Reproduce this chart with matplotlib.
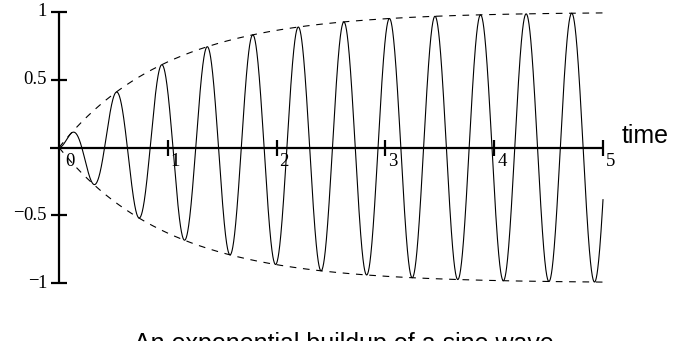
import numpy as np
import matplotlib.pyplot as plt

# values
tau = 1.0        # time constant of the envelope 1 - exp(-t/tau)
omega = 15.0     # angular frequency of the sine
t_start, t_end = 0.0, 5.0

x_ticks = [0, 1, 2, 3, 4, 5]
x_labels = ["0", "1", "2", "3", "4", "5"]
y_ticks = [1, 0.5, -0.5, -1]
y_labels = ["1", "0.5", "\u22120.5", "\u22121"]

t = np.linspace(t_start, t_end, 3000)
envelope = 1 - np.exp(-t / tau)
signal = envelope * np.sin(omega * t)

W, H = 682, 341
fig = plt.figure(figsize=(W / 100, H / 100), dpi=100)
# axes box = data range t 0..5, y -1..1 (pixel positions from the picture)
ax = fig.add_axes([59 / W, 1 - 283 / H, (603 - 59) / W, (283 - 12) / H])
ax.set_xlim(0, 5)
ax.set_ylim(-1, 1)
ax.axis("off")

# curve and envelope
ax.plot(t, signal, color="black", lw=0.8, clip_on=False)
ax.plot(t, envelope, color="black", lw=0.8, dashes=(6, 6), clip_on=False)
ax.plot(t, -envelope, color="black", lw=0.8, dashes=(6, 6), clip_on=False)

# hand drawn axes crossing at the origin
px_x = 5 / (603 - 59)   # data units per pixel
px_y = 2 / (283 - 12)
axis_kw = dict(color="black", lw=1.6, clip_on=False, solid_capstyle="butt")
ax.plot([-9 * px_x, 5], [0, 0], **axis_kw)
ax.plot([0, 0], [-1, 1], **axis_kw)
for xt in x_ticks[1:]:
    ax.plot([xt, xt], [-8 * px_y, 8 * px_y], **axis_kw)
for yt in y_ticks:
    ax.plot([-8 * px_x, 8 * px_x], [yt, yt], **axis_kw)

serif = "Liberation Serif"
fs = 13.5
for xt, lab in zip(x_ticks, x_labels):
    dx = 6 if xt == 0 else 3
    ax.text(xt + dx * px_x, -6 * px_y, lab, ha="left", va="top",
            fontsize=fs, family=serif)
for yt, lab in zip(y_ticks, y_labels):
    num = lab.lstrip("\u2212")
    ax.text(-12 * px_x, yt, num, ha="right", va="center",
            fontsize=fs, family=serif)
    if num != lab:
        # raised minus sign, set a little apart from the digits
        width = 7 if len(num) == 1 else 22
        ax.text(-(12 + width + 1) * px_x, yt + 2 * px_y, "\u2212",
                ha="right", va="center", fontsize=fs, family=serif)

fig.text(622 / W, 1 - 143 / H, "time", ha="left", va="baseline",
         fontsize=18, family="Liberation Sans")
fig.text(344 / W, 1 - 332 / H, "An exponential buildup of a sine wave",
         ha="center", va="top", fontsize=18, family="Liberation Sans")

fig.savefig("out.png", dpi=100)
